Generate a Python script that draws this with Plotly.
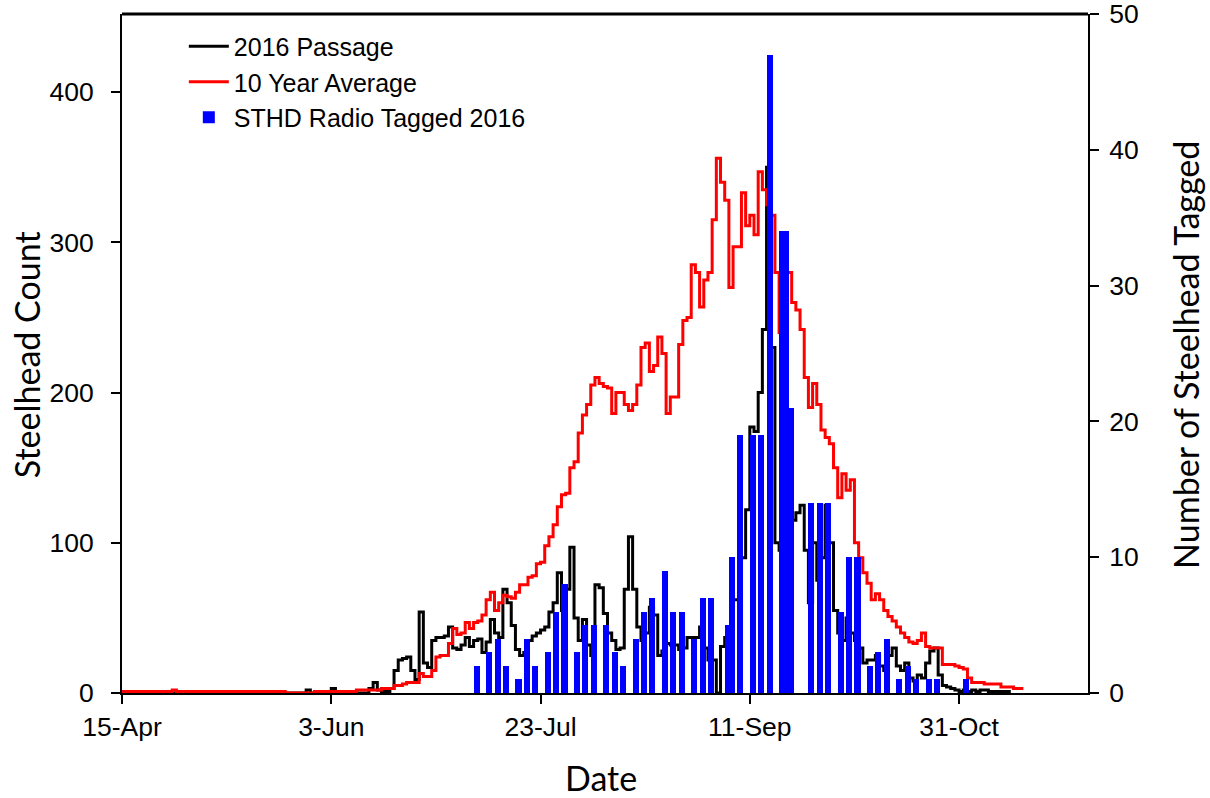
import plotly.graph_objects as go

# ---------------- data ----------------
tick_days = [0, 50, 100, 150, 200]
tick_labels = ["15-Apr", "3-Jun", "23-Jul", "11-Sep", "31-Oct"]

# days counted from 15-Apr
avg_days = list(range(0, 216))
avg_10yr = [
    1, 1, 1, 1, 1, 1, 1, 1, 1, 1,
    1, 1, 2, 1, 1, 1, 1, 1, 1, 1,
    1, 1, 1, 1, 1, 1, 1, 1, 1, 1,
    1, 1, 1, 1, 1, 1, 1, 1, 1, 0,
    0, 0, 0, 0, 0, 0, 1, 1, 1, 1,
    1, 1, 1, 1, 1, 1, 2, 2, 2, 2,
    2, 2, 3, 3, 3, 5, 5, 6, 7, 7,
    7, 13, 11, 11, 15, 24, 25, 25, 33, 43,
    39, 40, 47, 43, 47, 48, 52, 62, 67, 55,
    60, 65, 64, 63, 67, 72, 72, 77, 78, 86,
    87, 98, 104, 112, 124, 132, 133, 150, 154, 173,
    185, 192, 205, 210, 206, 204, 203, 186, 200, 200,
    192, 188, 192, 205, 230, 233, 214, 218, 237, 226,
    186, 197, 197, 232, 248, 250, 285, 280, 257, 275,
    280, 315, 356, 340, 328, 270, 297, 297, 333, 311,
    318, 305, 347, 335, 325, 318, 280, 240, 255, 280,
    260, 255, 242, 210, 190, 206, 192, 175, 170, 166,
    150, 130, 146, 135, 142, 100, 90, 80, 73, 62,
    66, 62, 55, 51, 48, 44, 40, 37, 34, 33,
    35, 40, 31, 30, 30, 30, 19, 19, 19, 18,
    17, 16, 10, 7, 7, 7, 6, 6, 6, 6,
    4, 4, 4, 3, 3, 2,
]

passage_days = list(range(0, 213))
passage_2016 = [
    0, 0, 0, 0, 0, 0, 0, 0, 0, 0,
    0, 0, 0, 0, 0, 0, 0, 0, 0, 0,
    0, 0, 0, 0, 0, 0, 0, 0, 0, 0,
    0, 0, 0, 0, 0, 0, 0, 0, 0, 0,
    0, 0, 0, 0, 2, 0, 0, 0, 0, 0,
    3, 0, 0, 0, 0, 0, 0, 0, 0, 3,
    7, 2, 1, 1, 3, 15, 22, 23, 24, 15,
    9, 54, 20, 17, 35, 37, 37, 38, 44, 30,
    29, 32, 37, 31, 35, 36, 27, 34, 49, 40,
    37, 69, 60, 45, 29, 25, 27, 35, 38, 40,
    42, 44, 54, 60, 80, 55, 69, 97, 50, 35,
    49, 32, 25, 72, 70, 53, 40, 35, 29, 30,
    69, 104, 69, 44, 35, 40, 57, 52, 25, 28,
    33, 32, 32, 29, 30, 37, 37, 37, 44, 30,
    22, 22, 0, 31, 37, 44, 62, 62, 90, 122,
    177, 174, 200, 242, 350, 230, 100, 95, 140, 110,
    115, 120, 125, 95, 60, 100, 75, 90, 125, 100,
    55, 40, 35, 50, 40, 35, 30, 20, 22, 22,
    25, 18, 15, 25, 30, 18, 15, 20, 10, 8,
    12, 10, 20, 28, 30, 12, 5, 4, 3, 2,
    1, 2, 1, 2, 1, 2, 2, 1, 1, 1,
    1, 1, 0,
]

tag_days = [84, 87, 89, 91, 94, 96, 98, 101, 103, 105, 108, 110, 112, 115, 117, 119,
            122, 124, 126, 129, 131, 133, 136, 138, 140, 144, 145, 147, 150, 152, 154,
            157, 158, 159, 164, 166, 168, 171, 173, 175, 178, 180, 182, 185, 187, 189,
            192, 194, 201]
tagged_2016 = [2, 3, 4, 2, 1, 4, 2, 3, 6, 8, 3, 5, 5, 5, 3, 2,
               4, 6, 7, 9, 6, 6, 4, 7, 7, 5, 10, 19, 19, 19, 47,
               34, 34, 21, 14, 14, 14, 6, 10, 10, 2, 3, 4, 1, 2, 1,
               1, 1, 1]

# ---------------- figure ----------------
TICK_FONT = dict(family="Liberation Sans, Arial, sans-serif", size=26.5, color="black")
LEGEND_FONT = dict(family="Liberation Sans, Arial, sans-serif", size=25, color="black")
TITLE_FONT = dict(family="Lato, Liberation Sans, sans-serif", size=34, color="black")

fig = go.Figure()
fig.add_trace(go.Scatter(
    x=passage_days, y=passage_2016, mode="lines", name="2016 Passage",
    line=dict(color="black", width=3, shape="hv"),
))
fig.add_trace(go.Scatter(
    x=avg_days, y=avg_10yr, mode="lines", name="10 Year Average",
    line=dict(color="#ff0000", width=3, shape="hv"),
))
fig.add_trace(go.Bar(
    x=tag_days, y=tagged_2016, name="STHD Radio Tagged 2016", yaxis="y2",
    width=1.45, offset=0, marker=dict(color="#0000ff", line=dict(width=0)),
))

axis_common = dict(ticks="outside", ticklen=9, tickwidth=2, tickcolor="black",
                   showline=True, linecolor="black", linewidth=2, showgrid=False,
                   zeroline=False, tickfont=TICK_FONT, ticklabeloverflow="allow",
                   automargin=False)

fig.update_layout(
    width=1210, height=798, autosize=False,
    margin=dict(l=122, r=122, t=14, b=105, autoexpand=False),
    paper_bgcolor="white", plot_bgcolor="white",
    showlegend=True,
    legend=dict(x=0.064, y=0.986, xanchor="left", yanchor="top",
                bgcolor="rgba(0,0,0,0)", font=LEGEND_FONT, itemwidth=40,
                tracegroupgap=0),
    bargap=0,
    xaxis=dict(range=[0, 230.8], tickmode="array", tickvals=tick_days,
               ticktext=tick_labels, **axis_common),
    yaxis=dict(range=[0, 452], tickvals=[0, 100, 200, 300, 400],
               ticklabelstandoff=12, **axis_common),
    yaxis2=dict(range=[0, 50], tickmode="array", tickvals=[0, 10, 20, 30, 40, 50],
                ticktext=["0", "10", "20", "30", "40", "50"], overlaying="y",
                side="right", ticklabelstandoff=5, **axis_common),
    shapes=[dict(type="line", xref="paper", yref="paper", x0=0, x1=1, y0=1, y1=1,
                 line=dict(color="black", width=3))],
    annotations=[
        dict(text="Date", xref="paper", yref="paper", x=0.496, y=-0.124,
             xanchor="center", yanchor="middle", showarrow=False, font=TITLE_FONT),
        dict(text="Steelhead Count", xref="paper", yref="paper", x=-0.098, y=0.498,
             xanchor="center", yanchor="middle", showarrow=False, textangle=-90,
             font=TITLE_FONT),
        dict(text="Number of Steelhead Tagged", xref="paper", yref="paper", x=1.1015,
             y=0.498, xanchor="center", yanchor="middle", showarrow=False,
             textangle=-90, font=TITLE_FONT),
    ],
)

fig.write_html("out.html", config={"displayModeBar": False},
               post_script="document.body.style.margin='0';")
